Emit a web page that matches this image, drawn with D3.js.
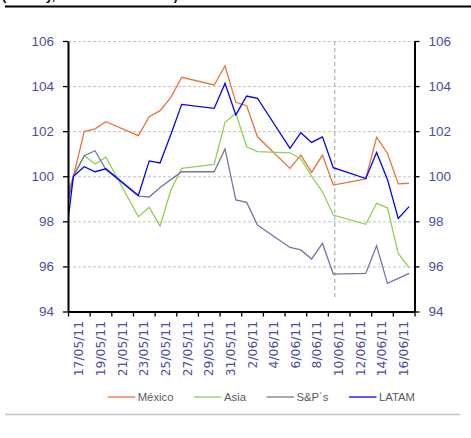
<!DOCTYPE html>
<html>
<head>
<meta charset="utf-8">
<script src="https://cdn.jsdelivr.net/npm/d3@7"></script>
<style>
  html, body { margin: 0; padding: 0; background: #fff; }
  svg { display: block; }
</style>
</head>
<body>
<div id="chart"></div>
<script>
// Trading days (dd/mm/yy); the first day sits just left of the plot and is clipped
const dates = ["16/05/11","17/05/11","18/05/11","19/05/11","20/05/11",
  "23/05/11","24/05/11","25/05/11","26/05/11","27/05/11",
  "30/05/11","31/05/11","01/06/11","02/06/11","03/06/11",
  "06/06/11","07/06/11","08/06/11","09/06/11","10/06/11",
  "13/06/11","14/06/11","15/06/11","16/06/11","17/06/11"];

// Index levels, 17/05/11 = 100
const mexico = [98.6, 100, 101.98, 102.1, 102.42, 101.8, 102.64, 102.91, 103.5, 104.39,
  104.05, 104.9, 103.28, 103.13, 101.75, 100.35, 100.94, 100.17, 100.94, 99.61,
  99.88, 101.73, 101.02, 99.66, 99.69];
const asia = [97.9, 100, 100.91, 100.54, 100.85, 98.2, 98.62, 97.79, 99.39, 100.35,
  100.53, 102.39, 102.79, 101.31, 101.09, 101.04, 100.77, 100.0, 99.31, 98.28,
  97.87, 98.8, 98.6, 96.58, 95.94];
const sp = [97.7, 100, 100.91, 101.13, 100.3, 99.12, 99.08, 99.5, 99.85, 100.2,
  100.2, 101.21, 98.95, 98.84, 97.84, 96.84, 96.73, 96.33, 97.02, 95.66,
  95.69, 96.92, 95.25, 95.47, 95.69];
const latam = [96.1, 100, 100.42, 100.2, 100.33, 99.15, 100.68, 100.59, 101.85, 103.19,
  103.01, 104.12, 102.72, 103.56, 103.46, 101.24, 101.93, 101.5, 101.75, 100.38,
  99.9, 101.05, 99.86, 98.13, 98.65];

const seriesNames = ["México", "Asia", "S&P´s", "LATAM"];
const seriesColors = ["#E8743B", "#92D050", "#7474A8", "#0000FF"];

// Axis labels
const yTicks = [94, 96, 98, 100, 102, 104, 106];
const xTickLabels = ["17/05/11","19/05/11","21/05/11","23/05/11","25/05/11","27/05/11",
  "29/05/11","31/05/11","2/06/11","4/06/11","6/06/11","8/06/11","10/06/11",
  "12/06/11","14/06/11","16/06/11"];
const markerDate = "10/06/11";
const headerText = "(Índice y, base 17/05/11 = 100)";

const W = 471, H = 438;
const DAY = 864e5, HALF = DAY / 2;
const parse = d3.utcParse("%d/%m/%y");
const parseLabel = d3.utcParse("%e/%m/%y");

const svg = d3.select("#chart").append("svg")
  .attr("width", W).attr("height", H);

const plot = { left: 68, right: 414.5, top: 41, bottom: 311.5 };

const start = new Date(+parse(dates[1]) - HALF);
const end = new Date(+parse(dates[dates.length - 1]) + HALF);
const x = d3.scaleUtc().domain([start, end]).range([plot.left, plot.right]);
const y = d3.scaleLinear().domain([94, 106]).range([plot.bottom, plot.top]);

const tickColor = "#4E4EA0";

// header rule and the heading running off the top edge
svg.append("text")
  .attr("x", 2).attr("y", -0.5)
  .attr("font-family", "Liberation Sans, Arial, sans-serif")
  .attr("font-weight", "bold").attr("font-size", 12.5)
  .attr("fill", "#000").text(headerText);
svg.append("line")
  .attr("x1", 5).attr("x2", W).attr("y1", 6.5).attr("y2", 6.5)
  .attr("stroke", "#000").attr("stroke-width", 2);

// footer rule
svg.append("line")
  .attr("x1", 5).attr("x2", 460).attr("y1", 414.5).attr("y2", 414.5)
  .attr("stroke", "#c4c4c4").attr("stroke-width", 1.5);

// dashed horizontal gridlines
svg.append("g").selectAll("line")
  .data(yTicks.filter(v => v > 94))
  .join("line")
  .attr("x1", plot.left).attr("x2", plot.right)
  .attr("y1", d => y(d) + 0.5).attr("y2", d => y(d) + 0.5)
  .attr("stroke", "#c3c3c3").attr("stroke-width", 1)
  .attr("stroke-dasharray", "3,2");

// vertical marker line
const mx = x(parse(markerDate)) + 1.5;
svg.append("line")
  .attr("x1", mx).attr("x2", mx)
  .attr("y1", y(106)).attr("y2", 298)
  .attr("stroke", "#a0a0a0").attr("stroke-width", 1)
  .attr("stroke-dasharray", "4,3");

// clip region for the series
svg.append("clipPath").attr("id", "plotClip")
  .append("rect")
  .attr("x", plot.left).attr("y", plot.top - 5)
  .attr("width", plot.right - plot.left).attr("height", plot.bottom - plot.top + 5);

const allSeries = [mexico, asia, sp, latam];
const parsedDates = dates.map(parse);
const line = d3.line()
  .x((d, i) => x(parsedDates[i]))
  .y(d => y(d));

svg.append("g").attr("clip-path", "url(#plotClip)")
  .selectAll("path")
  .data(allSeries)
  .join("path")
  .attr("d", d => line(d))
  .attr("fill", "none")
  .attr("stroke", (d, i) => seriesColors[i])
  .attr("stroke-width", 1.3)
  .attr("stroke-linejoin", "miter");

// left and right value axes
const yFont = "Liberation Sans, Arial, sans-serif";
function styleAxis(g) {
  g.select(".domain").attr("stroke", "#000").attr("stroke-width", 2);
  g.selectAll(".tick line").attr("stroke", "#000").attr("stroke-width", 1.3);
  g.selectAll(".tick text").attr("fill", tickColor)
    .attr("font-family", yFont).attr("font-size", 13.5);
}
svg.append("g")
  .attr("transform", `translate(${plot.left},0)`)
  .call(d3.axisLeft(y).tickValues(yTicks).tickSize(5).tickSizeOuter(0).tickPadding(9))
  .call(styleAxis);
svg.append("g")
  .attr("transform", `translate(${plot.right},0)`)
  .call(d3.axisRight(y).tickValues(yTicks).tickSize(5).tickSizeOuter(0).tickPadding(9))
  .call(styleAxis);

// date axis: ticks every two days on slot boundaries
const xTickDates = d3.range(0, 17).map(k => new Date(+start + k * 2 * DAY));
svg.append("g")
  .attr("transform", `translate(0,${plot.bottom})`)
  .call(d3.axisBottom(x).tickValues(xTickDates).tickSize(5).tickSizeOuter(0).tickFormat(""))
  .call(g => {
    g.select(".domain").attr("stroke", "#000").attr("stroke-width", 2);
    g.selectAll(".tick line").attr("stroke", "#000").attr("stroke-width", 1.3);
  });

svg.append("g").selectAll("text")
  .data(xTickLabels)
  .join("text")
  .attr("transform", d => `translate(${x(new Date(+parseLabel(d) + HALF))},321) rotate(-90)`)
  .attr("dy", "0.36em")
  .attr("text-anchor", "end")
  .attr("font-family", "DejaVu Sans, Verdana, sans-serif")
  .attr("font-size", 12.3)
  .attr("fill", tickColor)
  .text(d => d);

// legend
const legend = svg.append("g").attr("transform", "translate(107.7,397)");
let lx = 0;
seriesNames.forEach((name, i) => {
  const item = legend.append("g").attr("transform", `translate(${lx},0)`);
  item.append("line")
    .attr("x1", 0).attr("x2", 27.5).attr("y1", 0).attr("y2", 0)
    .attr("stroke", seriesColors[i]).attr("stroke-width", 1.3);
  const t = item.append("text")
    .attr("x", 30).attr("dy", "0.36em")
    .attr("font-family", "Liberation Sans, Arial, sans-serif")
    .attr("font-size", 11.3)
    .attr("fill", "#5a5a5a")
    .text(name);
  lx += 30 + t.node().getComputedTextLength() + 20.5;
});
</script>
</body>
</html>
